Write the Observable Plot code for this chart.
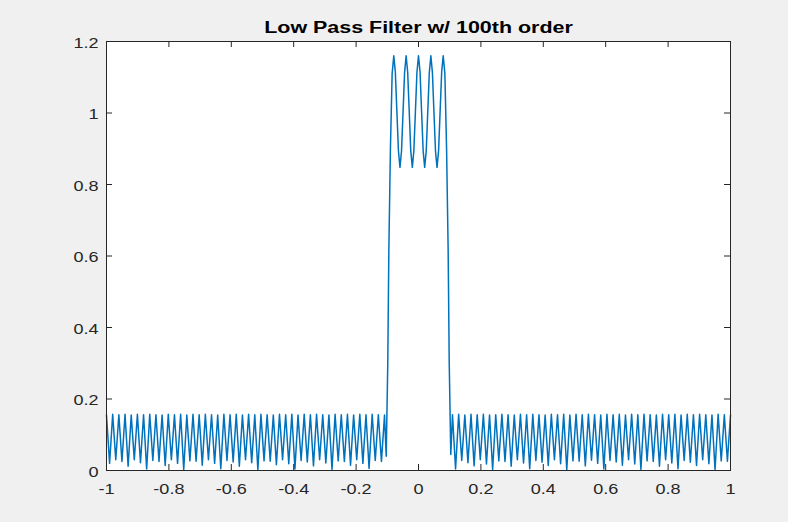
<!DOCTYPE html>
<html>
<head>
<meta charset="utf-8">
<script src="https://cdn.jsdelivr.net/npm/d3@7"></script>
<script src="https://cdn.jsdelivr.net/npm/@observablehq/plot@0.6"></script>
<style>
  html, body { margin: 0; padding: 0; background: #f0f0f0; }
  #chart { width: 788px; height: 522px; }
</style>
</head>
<body>
<div id="chart"></div>
<script>
const titleText = "Low Pass Filter w/ 100th order";
const xTicks = [-1, -0.8, -0.6, -0.4, -0.2, 0, 0.2, 0.4, 0.6, 0.8, 1];
const yTicks = [0, 0.2, 0.4, 0.6, 0.8, 1, 1.2];

// stopband (left), read from x = -1 towards -0.11: ripple peaks and troughs
const leftPeaks = [0.155,0.157,0.156,0.157,0.155,0.157,0.156,0.157,0.156,0.155,
                   0.157,0.156,0.157,0.155,0.157,0.156,0.157,0.156,0.155,0.157,
                   0.156,0.157,0.155,0.157,0.156,0.157,0.156,0.155,0.157,0.156,
                   0.157,0.155,0.157,0.156,0.157,0.156,0.155,0.157,0.156,0.157,
                   0.155,0.157,0.156,0.157,0.156,0.155];
const leftTroughs = [0.020,0.030,0.025,0.012,0.030,0.022,0.004,0.028,0.025,0.014,
                     0.030,0.020,0.003,0.027,0.026,0.015,0.030,0.020,0.005,0.028,
                     0.024,0.012,0.030,0.022,0.002,0.027,0.026,0.016,0.030,0.019,
                     0.004,0.028,0.024,0.013,0.030,0.021,0.003,0.027,0.025,0.015,
                     0.030,0.020,0.006,0.028,0.025];

// passband and transitions
const passX = [-0.1035,-0.0985,-0.0950,-0.0900,-0.0845,
               -0.0792,-0.0743,-0.0693,-0.0644,-0.0594,-0.0545,-0.0495,-0.0446,
               -0.0396,-0.0347,-0.0297,-0.0248,-0.0198,-0.0149,-0.0099,-0.0050,
               0,
               0.0050,0.0099,0.0149,0.0198,0.0248,0.0297,0.0347,0.0396,
               0.0446,0.0495,0.0545,0.0594,0.0644,0.0693,0.0743,0.0792,
               0.0845,0.0900,0.0950,0.0985,0.1035];
const passY = [0.040,0.300,0.620,0.900,1.110,
               1.160,1.115,1.005,0.895,0.848,0.893,1.003,1.113,
               1.160,1.114,1.004,0.894,0.848,0.894,1.004,1.114,
               1.160,
               1.114,1.004,0.894,0.848,0.894,1.004,1.114,1.160,
               1.113,1.003,0.893,0.848,0.895,1.005,1.115,1.160,
               1.110,0.900,0.620,0.300,0.045];

// stopband (right), read from x = 0.11 towards 1
const rightPeaks = [0.156,0.157,0.155,0.157,0.156,0.157,0.155,0.156,0.157,0.156,
                    0.155,0.157,0.156,0.157,0.156,0.155,0.157,0.156,0.157,0.155,
                    0.157,0.156,0.157,0.156,0.155,0.157,0.156,0.157,0.155,0.157,
                    0.156,0.157,0.156,0.155,0.157,0.156,0.157,0.155,0.157,0.156,
                    0.157,0.156,0.155,0.157,0.156,0.155];
const rightTroughs = [0.004,0.028,0.022,0.013,0.030,0.018,0.003,0.027,0.025,0.012,
                      0.030,0.021,0.005,0.028,0.023,0.014,0.030,0.019,0.002,0.027,
                      0.026,0.013,0.029,0.020,0.004,0.028,0.024,0.015,0.030,0.018,
                      0.003,0.027,0.025,0.012,0.030,0.021,0.005,0.028,0.023,0.014,
                      0.030,0.019,0.002,0.027,0.026];

// build table (sample grid of the frequency axis: half-ripple spacing 1/101)
const step = 1 / 101;
const rows = [];
leftPeaks.forEach((p, i) => {
  rows.push({x: -1 + 2 * i * step, y: p});
  if (i < leftTroughs.length) rows.push({x: -1 + (2 * i + 1) * step, y: leftTroughs[i]});
});
passX.forEach((x, i) => rows.push({x, y: passY[i]}));
rightPeaks.forEach((p, i) => {
  rows.push({x: -1 + (112 + 2 * i) * step, y: p});
  if (i < rightTroughs.length) rows.push({x: -1 + (113 + 2 * i) * step, y: rightTroughs[i]});
});

const W = 788, H = 522;
const mL = 106, mR = 58, mT = 41, mB = 52;
const innerW = W - mL - mR, innerH = H - mT - mB;
const tk = 6;
const axisColor = "#262626";

const plot = Plot.plot({
  width: W,
  height: H,
  marginLeft: mL, marginRight: mR, marginTop: mT, marginBottom: mB,
  style: {background: "#f0f0f0", fontFamily: "'Liberation Sans', Arial, Helvetica, sans-serif", fontSize: "14px", color: axisColor},
  x: {domain: [-1, 1]},
  y: {domain: [0, 1.2]},
  marks: [
    Plot.frame({fill: "white", stroke: null}),
    Plot.line(rows, {x: "x", y: "y", stroke: "#0072BD", strokeWidth: 1.5, strokeLinejoin: "round"}),
    Plot.tickX(xTicks, {insetTop: innerH - tk, stroke: axisColor}),
    Plot.tickX(xTicks, {insetBottom: innerH - tk, stroke: axisColor}),
    Plot.tickY(yTicks, {insetRight: innerW - tk, stroke: axisColor}),
    Plot.tickY(yTicks, {insetLeft: innerW - tk, stroke: axisColor}),
    Plot.frame({stroke: axisColor, strokeWidth: 1}),
    Plot.axisX({ticks: xTicks, tickSize: 0, tickPadding: 14, tickFormat: d => String(d), fill: axisColor, label: null}),
    Plot.axisY({ticks: yTicks, tickSize: 0, tickPadding: 8, dy: 2, tickFormat: d => String(d), fill: axisColor, label: null}),
    Plot.text([titleText], {frameAnchor: "top", dy: -14, fontWeight: "bold", fontSize: 16, fill: "#000", lineAnchor: "middle"})
  ]
});
document.getElementById("chart").appendChild(plot);

// horizontal stretch of glyphs to match the reference rendering
plot.querySelectorAll("text").forEach(t => {
  const L = t.getComputedTextLength();
  if (!L) return;
  const f = t.textContent === titleText ? 1.34 : 1.29;
  t.setAttribute("textLength", (L * f).toFixed(1));
  t.setAttribute("lengthAdjust", "spacingAndGlyphs");
});
</script>
</body>
</html>
